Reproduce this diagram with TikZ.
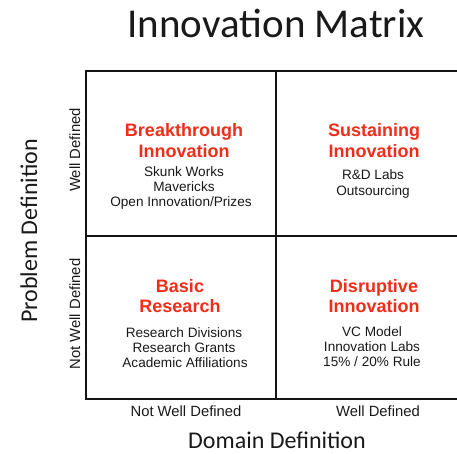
\documentclass[tikz,border=0pt]{standalone}
\usepackage{fontspec}
\setmainfont{Liberation Sans}
\newfontfamily\calfont{Carlito}
\definecolor{hotred}{RGB}{240,45,25}
\definecolor{ink}{RGB}{25,25,25}
\definecolor{gridline}{RGB}{20,20,20}
\tikzset{
  titletext/.style={font=\calfont\fontsize{41}{45}\selectfont, text=ink, inner sep=0pt, anchor=base},
  axistitle/.style={font=\calfont\fontsize{24}{28}\selectfont, text=ink, inner sep=0pt, anchor=base},
  axislabel/.style={font=\fontsize{14.8}{17}\selectfont, text=ink, inner sep=0pt, anchor=base},
  quadhead/.style={font=\bfseries\fontsize{18}{21}\selectfont, text=hotred, inner sep=0pt, anchor=base},
  quaditem/.style={font=\fontsize{13.6}{16}\selectfont, text=ink, inner sep=0pt, anchor=base},
  gridstroke/.style={draw=gridline, line width=2.2pt}
}
\begin{document}
\begin{tikzpicture}[x=1pt,y=-1pt]
\useasboundingbox (0,0) rectangle (457,454);
\begin{scope}
\clip (0,0) rectangle (457,454);
\draw[gridstroke] (470,71) -- (86,71) -- (86,399) -- (470,399);
\draw[gridstroke] (276,71) -- (276,399);
\draw[gridstroke] (86,236) -- (470,236);
\end{scope}
% title
\node[titletext] (title) at (276,38) {Innovation Matrix};
% axis titles
\node[axistitle] (domain) at (277,448) {Domain Definition};
\node[axistitle, rotate=90] (problem) at (37,231) {Problem Definition};
% axis labels
\node[axislabel, rotate=90] (ywell) at (80,150) {Well Defined};
\node[axislabel, rotate=90] (ynot) at (80,314) {Not Well Defined};
\node[axislabel] (xnot) at (186,416) {Not Well Defined};
\node[axislabel] (xwell) at (378,416) {Well Defined};
% top-left
\node[quadhead] (tl1) at (184,137) {Breakthrough};
\node[quadhead] (tl2) at (184,158) {Innovation};
\node[quaditem] (tl3) at (184,177) {Skunk Works};
\node[quaditem] (tl4) at (184,192) {Mavericks};
\node[quaditem] (tl5) at (181,207) {Open Innovation/Prizes};
% top-right
\node[quadhead] (tr1) at (374,137) {Sustaining};
\node[quadhead] (tr2) at (374,158) {Innovation};
\node[quaditem] (tr3) at (373,180) {R\&D Labs};
\node[quaditem] (tr4) at (373,196) {Outsourcing};
% bottom-left
\node[quadhead] (bl1) at (180,292) {Basic};
\node[quadhead] (bl2) at (180,312) {Research};
\node[quaditem] (bl3) at (184,337) {Research Divisions};
\node[quaditem] (bl4) at (184,352) {Research Grants};
\node[quaditem] (bl5) at (185,367) {Academic Affiliations};
% bottom-right
\node[quadhead] (br1) at (374,292) {Disruptive};
\node[quadhead] (br2) at (374,312) {Innovation};
\node[quaditem] (br3) at (372,336) {VC Model};
\node[quaditem] (br4) at (372,351) {Innovation Labs};
\node[quaditem] (br5) at (372,366) {15\% / 20\% Rule};
\end{tikzpicture}
\end{document}
